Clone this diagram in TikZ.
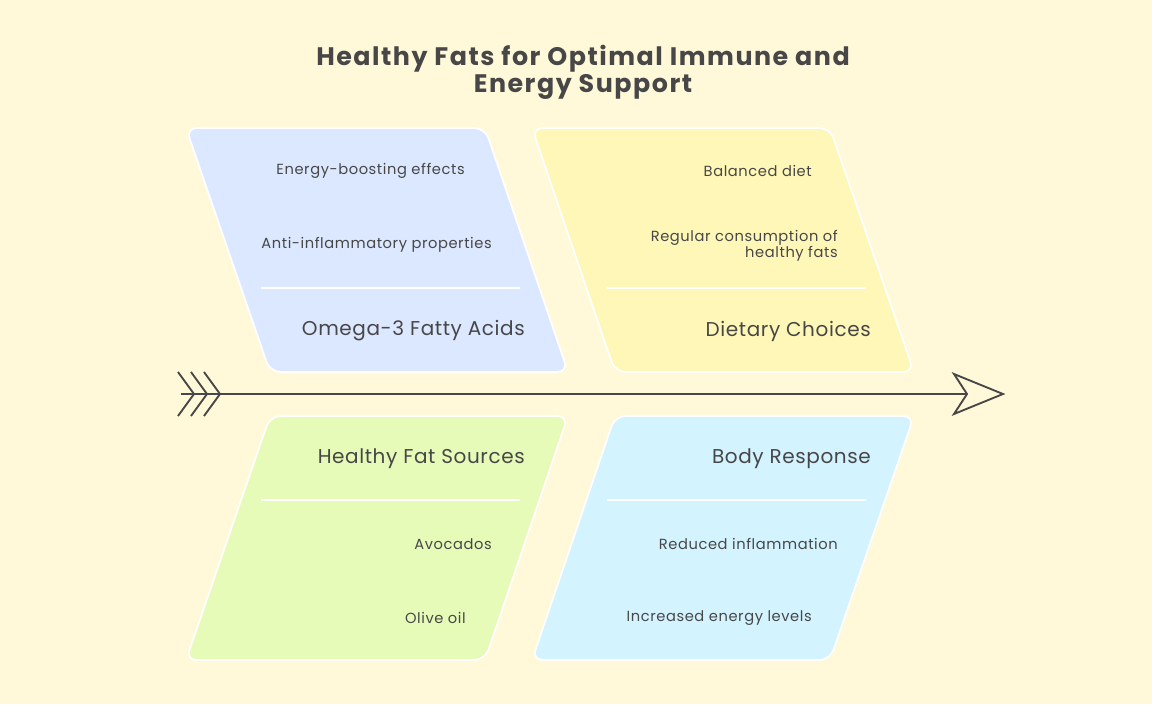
\documentclass[tikz,border=0pt]{standalone}
\usepackage{fontspec}
\setmainfont{Poppins}
\usepackage{tikz}
\usepackage{xcolor}
\tikzset{>=latex}
\definecolor{bgcream}{HTML}{FFF9D9}
\definecolor{omegablue}{HTML}{DCE8FF}
\definecolor{dietyellow}{HTML}{FFF7B8}
\definecolor{sourcegreen}{HTML}{E7FBB9}
\definecolor{bodycyan}{HTML}{D3F3FF}
\definecolor{inkgray}{HTML}{474747}

\begin{document}
\begin{tikzpicture}[x=0.75pt, y=-0.75pt,
    panel/.style={draw=white, line width=1.3pt, rounded corners=8pt},
    divider/.style={draw=white, line width=0.9pt},
    item/.style={text=inkgray, anchor=east, align=right, inner sep=0pt,
                 font=\fontsize{11}{12}\selectfont\addfontfeatures{LetterSpace=4}},
    heading/.style={text=inkgray, anchor=east, inner sep=0pt,
                    font=\fontsize{15}{17}\selectfont\addfontfeatures{LetterSpace=3}},
    spine/.style={draw=inkgray, line width=1.4pt}]
    \fill[bgcream] (0, 0) rectangle (1152, 704);
    \useasboundingbox (0, 0) rectangle (1152, 704);
    % title
    \node[text=inkgray, align=center,
          font=\fontsize{19}{20.5}\selectfont\bfseries\addfontfeatures{LetterSpace=6}]
         (title) at (583, 72) {Healthy Fats for Optimal Immune and\\Energy Support};
    % panels
    \path[panel, fill=omegablue] (186, 128) -- (485, 128) -- (568, 372) -- (270, 372) -- cycle;
    \path[panel, fill=dietyellow] (532, 128) -- (830, 128) -- (914, 372) -- (615, 372) -- cycle;
    \path[panel, fill=sourcegreen] (270, 416) -- (568, 416) -- (485, 660) -- (186, 660) -- cycle;
    \path[panel, fill=bodycyan] (615, 416) -- (914, 416) -- (830, 660) -- (532, 660) -- cycle;
    \draw[divider] (261, 288) -- (520, 288);
    \draw[divider] (607, 288) -- (866, 288);
    \draw[divider] (261, 500) -- (520, 500);
    \draw[divider] (607, 500) -- (866, 500);
    % texts
    \node[item] (energy) at (465, 171) {Energy-boosting effects};
    \node[item] (antiinf) at (492, 245) {Anti-inflammatory properties};
    \node[heading] (omega) at (525, 331) {Omega-3 Fatty Acids};
    \node[item] (balanced) at (812, 171) {Balanced diet};
    \node[item] (regular) at (838, 246) {Regular consumption of\\healthy fats};
    \node[heading] (dietary) at (871, 331) {Dietary Choices};
    \node[heading] (sources) at (525, 459) {Healthy Fat Sources};
    \node[item] (avocados) at (492, 544) {Avocados};
    \node[item] (olive) at (466, 618) {Olive oil};
    \node[heading] (body) at (871, 459) {Body Response};
    \node[item] (reduced) at (838, 544) {Reduced inflammation};
    \node[item] (increased) at (812, 618) {Increased energy levels};
    % spine
    \coordinate (tail) at (181, 394);
    \coordinate (head) at (967, 394);
    \draw[spine] (tail) -- (head);
    \foreach \x in {178, 191, 204}
        \draw[spine, line join=miter] (\x, 372) -- (\x+16, 394) -- (\x, 416);
    \draw[spine, line join=miter] (head) -- (954, 374) -- (1003, 394) -- (954, 414) -- cycle;
\end{tikzpicture}
\end{document}
